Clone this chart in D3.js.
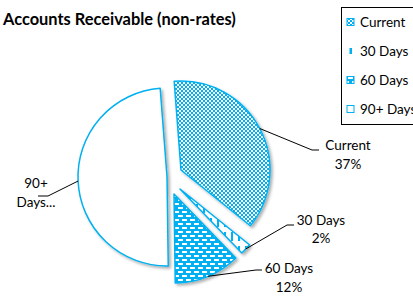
<!DOCTYPE html>
<html>
<head>
<meta charset="utf-8">
<script src="https://cdn.jsdelivr.net/npm/d3@7"></script>
<style>
  body { margin: 0; background: #fff; }
  svg { display: block; font-family: Lato, "Open Sans", sans-serif; }
</style>
</head>
<body>
<div id="chart"></div>
<script>
// data
const categories = ["Current", "30 Days", "60 Days", "90+ Days"];
const shares = [37, 2, 12, 49];
const labelLines = [["Current", "37%"], ["30 Days", "2%"], ["60 Days", "12%"], ["90+", "Days..."]];

// styling / layout
const W = 413, H = 299;
const blue = "#00B0F0";
const cx = 167, cy = 177, r = 89;
const startAngle = -4.4 * Math.PI / 180;
const explode = [16, 18, 18, 0];
const fills = ["url(#pCur)", "url(#p30)", "url(#p60)", "#fff"];
// label anchor: text centre x, first/second baseline, leader y, elbow x, end x
const labelPos = [
  { x: 348, y1: 150, y2: 169, ly: 150, bx: 312, ex: 319 },
  { x: 321, y1: 225, y2: 243, ly: 225, bx: 287, ex: 294 },
  { x: 289, y1: 273, y2: 292, ly: 270, bx: 256, ex: 262 },
  { x: 36,  y1: 188, y2: 207, ly: 196, bx: 48,  ex: 38 }
];

const svg = d3.select("#chart").append("svg").attr("width", W).attr("height", H);
const defs = svg.append("defs");

// checker pattern (Current)
const pc = defs.append("pattern").attr("id", "pCur").attr("patternUnits", "userSpaceOnUse")
  .attr("width", 4).attr("height", 4);
pc.append("rect").attr("width", 4).attr("height", 4).attr("fill", "#fff");
pc.append("rect").attr("width", 2).attr("height", 2).attr("fill", blue);
pc.append("rect").attr("x", 2).attr("y", 2).attr("width", 2).attr("height", 2).attr("fill", blue);

// dashed vertical (30 Days)
const p3 = defs.append("pattern").attr("id", "p30").attr("patternUnits", "userSpaceOnUse")
  .attr("width", 7).attr("height", 14);
p3.append("rect").attr("width", 7).attr("height", 14).attr("fill", "#fff");
p3.append("rect").attr("x", 2).attr("y", 1).attr("width", 2).attr("height", 9).attr("fill", blue);

// dashed horizontal inverted (60 Days)
const p6 = defs.append("pattern").attr("id", "p60").attr("patternUnits", "userSpaceOnUse")
  .attr("width", 8).attr("height", 8);
p6.append("rect").attr("width", 8).attr("height", 8).attr("fill", blue);
[[0, 1], [4, 5], [-4, 5]].forEach(([x, y]) =>
  p6.append("rect").attr("x", x).attr("y", y).attr("width", 5).attr("height", 2).attr("fill", "#fff"));

const shadow = defs.append("filter").attr("id", "shadow")
  .attr("x", "-20%").attr("y", "-20%").attr("width", "140%").attr("height", "140%");
shadow.append("feDropShadow").attr("dx", 2).attr("dy", 2).attr("stdDeviation", 1.6)
  .attr("flood-color", "#000").attr("flood-opacity", 0.32);

// title
svg.append("text").attr("x", 3).attr("y", 25)
  .attr("font-size", "16.4px").attr("font-weight", "bold").attr("fill", "#000")
  .text("Accounts Receivable (non-rates)");

// pie
const pie = d3.pie().sort(null).value(d => d)
  .startAngle(startAngle).endAngle(startAngle + 2 * Math.PI);
const arcs = pie(shares);
const arc = d3.arc().innerRadius(0).outerRadius(r);

// exploded slice centre, snapped to whole pixels so the patterns stay crisp
function centre(d, i) {
  const mid = (d.startAngle + d.endAngle) / 2;
  return [Math.round(cx + explode[i] * Math.sin(mid)), Math.round(cy - explode[i] * Math.cos(mid))];
}

svg.selectAll(".slice")
  .data(arcs)
  .enter()
  .append("path")
  .attr("class", "slice")
  .attr("transform", (d, i) => `translate(${centre(d, i)})`)
  .attr("d", arc)
  .attr("fill", (d, i) => fills[i])
  .attr("stroke", blue)
  .attr("stroke-width", 1.5)
  .attr("stroke-linejoin", "round")
  .attr("filter", "url(#shadow)");

// leader lines + labels
arcs.forEach((d, i) => {
  const mid = (d.startAngle + d.endAngle) / 2;
  const [ox, oy] = centre(d, i);
  const sx = ox + r * Math.sin(mid);
  const sy = oy - r * Math.cos(mid);
  const p = labelPos[i];
  svg.append("polyline")
    .attr("points", [[sx, sy], [p.bx, p.ly], [p.ex, p.ly]].map(q => q.join(",")).join(" "))
    .attr("fill", "none")
    .attr("stroke", "#000")
    .attr("stroke-width", 1);
  const t = svg.append("text").attr("text-anchor", "middle")
    .attr("font-size", "13.5px").attr("fill", "#000");
  t.append("tspan").attr("x", p.x).attr("y", p.y1).text(labelLines[i][0]);
  t.append("tspan").attr("x", p.x).attr("y", p.y2).text(labelLines[i][1]);
});

// legend
const lg = svg.append("g");
lg.append("rect").attr("x", 341.5).attr("y", 7.5).attr("width", 80).attr("height", 117)
  .attr("fill", "#fff").attr("stroke", "#000").attr("stroke-width", 1);

const legendY = d3.scalePoint().domain(categories).range([22, 109]);
const keys = lg.selectAll(".key").data(categories).enter().append("g")
  .attr("transform", d => `translate(0,${legendY(d)})`);

keys.each(function (d, i) {
  const k = d3.select(this);
  if (i === 1) {
    k.append("rect").attr("x", 349.5).attr("y", -3).attr("width", 2.5).attr("height", 6).attr("fill", blue);
  } else {
    k.append("rect").attr("x", 347).attr("y", -3.5).attr("width", 7).attr("height", 7)
      .attr("fill", fills[i]).attr("stroke", blue).attr("stroke-width", 1);
  }
  k.append("text").attr("x", 360).attr("y", 5)
    .attr("font-size", "13.5px").attr("fill", "#000").text(d);
});
</script>
</body>
</html>
